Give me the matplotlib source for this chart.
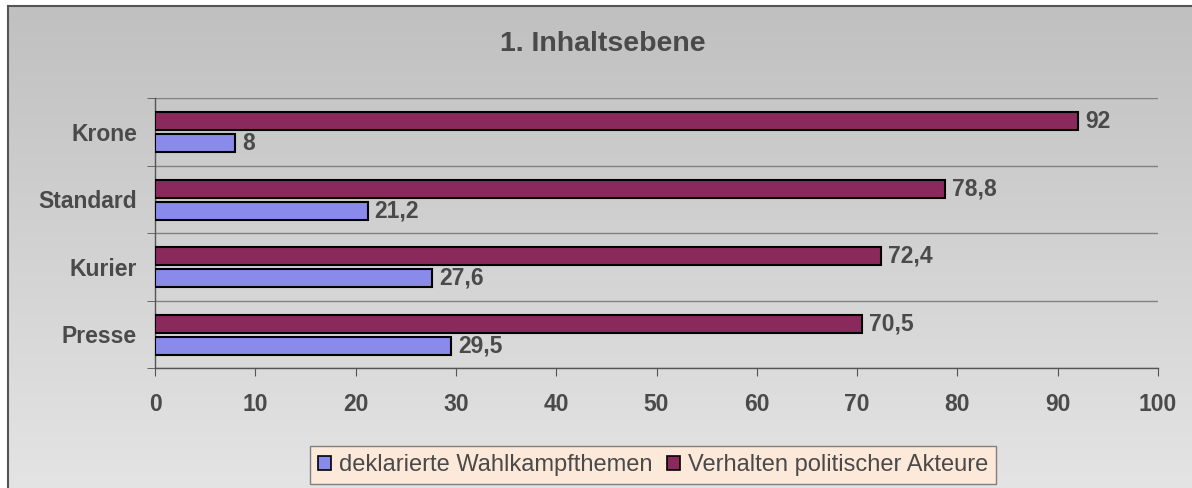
import matplotlib
matplotlib.use("Agg")
import matplotlib.pyplot as plt
import numpy as np
from matplotlib.patches import Rectangle
from matplotlib.lines import Line2D
from matplotlib.colors import LinearSegmentedColormap

categories = ["Krone", "Standard", "Kurier", "Presse"]
series_names = ["deklarierte Wahlkampfthemen", "Verhalten politischer Akteure"]
wahlkampf = [8, 21.2, 27.6, 29.5]
verhalten = [92, 78.8, 72.4, 70.5]
xticks = [0, 10, 20, 30, 40, 50, 60, 70, 80, 90, 100]

blue = "#8a8aea"
maroon = "#8a2a5c"
text_col = "#4a4a4a"

plt.rcParams['font.family'] = ['Liberation Sans', 'DejaVu Sans']

W, H = 1192, 488
fig = plt.figure(figsize=(W / 100, H / 100), dpi=100)
fig.patch.set_facecolor("white")

# background gradient panel
bg = fig.add_axes([0, 0, 1, 1], zorder=-10)
bg.set_xlim(0, W)
bg.set_ylim(H, 0)
bg.axis("off")
grad = np.linspace(0, 1, 256).reshape(-1, 1)
cmap = LinearSegmentedColormap.from_list("g", ["#c0c0c0", "#e4e4e4"])
bg.imshow(grad, cmap=cmap, extent=[8, W, H, 6], aspect="auto", interpolation="bicubic")
bg.add_line(Line2D([8, W], [6, 6], color="#555555", lw=1.5))
bg.add_line(Line2D([8, 8], [6, H], color="#555555", lw=1.5))

ax = fig.add_axes([155 / W, 1 - 368 / H, (1158 - 155) / W, (368 - 98) / H])
ax.patch.set_alpha(0)

y = np.arange(len(categories))
h = 0.267
ax.barh(y - 0.158, verhalten, height=h, color=maroon, edgecolor="black", linewidth=1.5, zorder=3)
ax.barh(y + 0.168, wahlkampf, height=h, color=blue, edgecolor="black", linewidth=1.5, zorder=3)

def fmt(v):
    return (f"{v:g}").replace(".", ",")

fs = 16.5
for yi, v in zip(y, verhalten):
    ax.text(v + 0.7, yi - 0.158, fmt(v), va="center", ha="left", fontsize=fs,
            fontweight="bold", color=text_col)
for yi, v in zip(y, wahlkampf):
    ax.text(v + 0.7, yi + 0.168, fmt(v), va="center", ha="left", fontsize=fs,
            fontweight="bold", color=text_col)

ax.set_xlim(0, 100)
ax.set_ylim(len(categories) - 0.5, -0.5)
ax.set_xticks(xticks)
ax.set_xticklabels([str(t) for t in xticks])
ax.set_yticks(y)
ax.set_yticklabels(categories)
ax.set_yticks(np.arange(len(categories) + 1) - 0.5, minor=True)
ax.tick_params(axis="y", which="major", length=0, pad=13)
ax.tick_params(axis="y", which="minor", length=6, color="#555555", direction="out")
ax.tick_params(axis="x", length=6, color="#555555", direction="out", pad=12)
for lab in ax.get_xticklabels() + ax.get_yticklabels():
    lab.set_fontsize(fs)
    lab.set_fontweight("bold")
    lab.set_color(text_col)

ax.grid(axis="y", which="minor", color="#808080", linewidth=1.0, zorder=1)
ax.grid(axis="y", which="major", visible=False)
for s in ["top", "right"]:
    ax.spines[s].set_visible(False)
for s in ["left", "bottom"]:
    ax.spines[s].set_color("#555555")
    ax.spines[s].set_linewidth(1.0)

fig.text(603 / W, 1 - 44 / H, "1. Inhaltsebene", ha="center", va="center",
         fontsize=20.5, fontweight="bold", color=text_col)

# legend
handles = [Rectangle((0, 0), 1, 1, facecolor=blue, edgecolor="black", linewidth=1.2),
           Rectangle((0, 0), 1, 1, facecolor=maroon, edgecolor="black", linewidth=1.2)]
leg = fig.legend(handles, series_names, loc="center", bbox_to_anchor=(653 / W, 1 - 465 / H),
                 ncol=2, frameon=True, fancybox=False, fontsize=17,
                 handlelength=0.55, handleheight=0.55, handletextpad=0.35, columnspacing=0.6,
                 borderpad=0.35, borderaxespad=0, labelcolor=text_col)
leg.get_frame().set_facecolor("#fde9d9")
leg.get_frame().set_edgecolor("#808080")
leg.get_frame().set_linewidth(1.0)
leg.get_frame().set_alpha(1)

fig.savefig("out.png", dpi=100)
